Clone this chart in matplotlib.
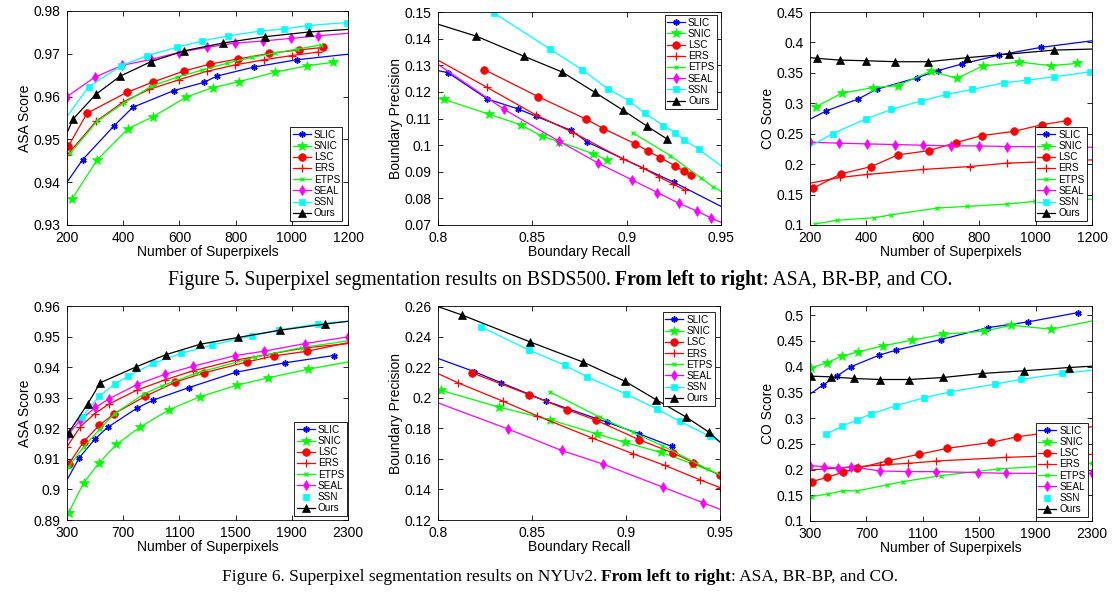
import matplotlib
matplotlib.use("Agg")
import matplotlib.pyplot as plt
from matplotlib.lines import Line2D
from matplotlib.ticker import FuncFormatter

plt.rcParams['font.family'] = ['Liberation Sans', 'DejaVu Sans']

methods = ['SLIC', 'SNIC', 'LSC', 'ERS', 'ETPS', 'SEAL', 'SSN', 'Ours']

# ---------------- BSDS500 : ASA ----------------
a5_slic = ([200, 256, 368, 434, 580, 686, 734, 865, 1017, 1200],
           [0.9400, 0.9453, 0.9532, 0.9575, 0.9614, 0.9633, 0.9648, 0.9669, 0.9686, 0.9699])
a5_snic = ([218, 307, 417, 506, 625, 718, 813, 940, 1053, 1146],
           [0.9361, 0.9452, 0.9525, 0.9553, 0.9599, 0.9621, 0.9635, 0.9657, 0.9672, 0.9680])
a5_lsc = ([205, 271, 413, 506, 617, 709, 810, 920, 1026, 1112],
          [0.9484, 0.9561, 0.9610, 0.9634, 0.9660, 0.9676, 0.9688, 0.9701, 0.9709, 0.9715])
a5_ers = ([200, 303, 401, 493, 597, 697, 798, 900, 1000, 1094],
          [0.9463, 0.9542, 0.9588, 0.9617, 0.9639, 0.9659, 0.9674, 0.9686, 0.9696, 0.9704])
a5_etps = ([212, 307, 402, 503, 590, 680, 770, 860, 940, 1020, 1104],
           [0.9468, 0.9542, 0.9585, 0.9625, 0.9645, 0.9662, 0.9678, 0.9692, 0.9702, 0.9711, 0.9721])
a5_seal = ([200, 298, 396, 500, 597, 697, 798, 898, 997, 1094, 1200],
           [0.9600, 0.9645, 0.9673, 0.9687, 0.9703, 0.9715, 0.9725, 0.9730, 0.9736, 0.9742, 0.9748])
a5_ssn = ([200, 277, 393, 485, 590, 679, 773, 887, 971, 1057, 1195],
          [0.9553, 0.9623, 0.9672, 0.9696, 0.9715, 0.9730, 0.9742, 0.9753, 0.9758, 0.9766, 0.9773])
a5_ours = ([200, 221, 302, 390, 500, 617, 754, 905, 1062, 1200],
           [0.9515, 0.9547, 0.9605, 0.9648, 0.9682, 0.9707, 0.9725, 0.9740, 0.9751, 0.9757])

# ---------------- BSDS500 : BR-BP ----------------
b5_slic = ([0.8, 0.8053, 0.8262, 0.8425, 0.8517, 0.8707, 0.8792, 0.9249, 0.95],
           [0.1280, 0.1272, 0.1173, 0.1136, 0.1109, 0.1055, 0.1011, 0.0861, 0.0770])
b5_snic = ([0.8, 0.803, 0.8271, 0.8439, 0.8549, 0.8643, 0.8824, 0.8898],
           [0.1174, 0.1172, 0.1116, 0.1076, 0.1034, 0.1013, 0.0967, 0.0944])
b5_lsc = ([0.8244, 0.8531, 0.8786, 0.8877, 0.9045, 0.9112, 0.9178, 0.9257, 0.9305, 0.9342],
          [0.1284, 0.1182, 0.1097, 0.1062, 0.1005, 0.0978, 0.0953, 0.0922, 0.0901, 0.0886])
b5_ers = ([0.8, 0.826, 0.8517, 0.8717, 0.8983, 0.9089, 0.9169, 0.9243, 0.931],
          [0.1319, 0.1217, 0.1114, 0.1047, 0.0947, 0.0913, 0.0882, 0.0855, 0.0831])
b5_etps = ([0.9031, 0.9231, 0.9395, 0.9457, 0.95],
           [0.1047, 0.0961, 0.0876, 0.0844, 0.0826])
b5_seal = ([0.8, 0.8351, 0.8641, 0.885, 0.9027, 0.9163, 0.9275, 0.9374, 0.9448, 0.95],
           [0.1303, 0.1134, 0.1015, 0.0932, 0.0870, 0.0822, 0.0782, 0.0752, 0.0726, 0.0710])
b5_ssn = ([0.8298, 0.8593, 0.8765, 0.8899, 0.9012, 0.9098, 0.9195, 0.9257, 0.9305, 0.9381, 0.95],
          [0.1496, 0.1361, 0.1283, 0.1212, 0.1167, 0.1119, 0.1073, 0.1047, 0.1020, 0.0985, 0.0922])
b5_ours = ([0.8, 0.8204, 0.8455, 0.8657, 0.8832, 0.8979, 0.9106, 0.9216],
           [0.1454, 0.1409, 0.1334, 0.1275, 0.1198, 0.1132, 0.1072, 0.1022])

# ---------------- BSDS500 : CO ----------------
c5_slic = ([200, 257, 371, 436, 581, 653, 738, 870, 1018, 1200],
           [0.2738, 0.2874, 0.3071, 0.3230, 0.3421, 0.3536, 0.3645, 0.3792, 0.3918, 0.4027])
c5_snic = ([221, 312, 422, 511, 629, 720, 812, 942, 1053, 1148],
           [0.2945, 0.3164, 0.3257, 0.3290, 0.3530, 0.3410, 0.3612, 0.3678, 0.3618, 0.3656])
c5_lsc = ([212, 310, 418, 511, 623, 717, 810, 924, 1024, 1113],
          [0.1606, 0.1841, 0.1961, 0.2152, 0.2223, 0.2354, 0.2469, 0.2540, 0.2650, 0.2715])
c5_ers = ([200, 306, 401, 599, 767, 897, 1200],
          [0.1688, 0.1781, 0.1830, 0.1912, 0.1961, 0.2016, 0.2070])
c5_etps = ([218, 294, 428, 489, 651, 758, 897, 997, 1200],
           [0.1016, 0.1077, 0.1120, 0.1169, 0.1278, 0.1306, 0.1344, 0.1388, 0.1425])
c5_seal = ([200, 304, 401, 501, 599, 699, 800, 897, 1200],
           [0.2360, 0.2345, 0.2333, 0.2322, 0.2311, 0.2300, 0.2300, 0.2289, 0.2278])
c5_ssn = ([200, 280, 398, 489, 593, 684, 775, 888, 971, 1065, 1192, 1200],
          [0.2289, 0.2502, 0.2742, 0.2900, 0.3037, 0.3146, 0.3228, 0.3337, 0.3381, 0.3435, 0.3517, 0.3523])
c5_ours = ([200, 226, 306, 397, 503, 620, 756, 906, 1065, 1200],
           [0.3750, 0.3738, 0.3710, 0.3699, 0.3683, 0.3683, 0.3749, 0.3809, 0.3874, 0.3891])

# ---------------- NYUv2 : ASA ----------------
a6_slic = ([300, 388, 497, 589, 798, 912, 1166, 1500, 1849, 2198],
           [0.9031, 0.9104, 0.9164, 0.9203, 0.9266, 0.9292, 0.9333, 0.9383, 0.9414, 0.9438])
a6_snic = ([312, 419, 525, 651, 817, 1028, 1244, 1510, 1731, 2013, 2300],
           [0.8924, 0.9022, 0.9085, 0.9147, 0.9203, 0.9261, 0.9303, 0.9341, 0.9365, 0.9393, 0.9417])
a6_lsc = ([312, 419, 530, 637, 858, 1071, 1273, 1581, 1776, 2008, 2300],
          [0.9083, 0.9156, 0.9210, 0.9248, 0.9305, 0.9351, 0.9381, 0.9417, 0.9437, 0.9452, 0.9480])
a6_ers = ([300, 395, 497, 597, 798, 1000, 1197, 1498, 1700, 1992, 2300],
          [0.9140, 0.9205, 0.9248, 0.9279, 0.9325, 0.9359, 0.9388, 0.9423, 0.9439, 0.9463, 0.9477])
a6_etps = ([312, 419, 537, 639, 846, 976, 1225, 1640, 1972, 2300],
           [0.9074, 0.9140, 0.9199, 0.9248, 0.9312, 0.9339, 0.9381, 0.9433, 0.9464, 0.9486])
a6_seal = ([300, 395, 502, 601, 798, 1000, 1197, 1498, 1700, 1992, 2300],
           [0.9175, 0.9227, 0.9268, 0.9297, 0.9343, 0.9377, 0.9403, 0.9438, 0.9452, 0.9477, 0.9499])
a6_ssn = ([407, 530, 640, 734, 912, 1111, 1330, 1617, 1806, 2086, 2300],
          [0.9237, 0.9305, 0.9345, 0.9370, 0.9412, 0.9445, 0.9472, 0.9503, 0.9521, 0.9542, 0.9550])
a6_ours = ([312, 449, 537, 793, 1005, 1249, 1517, 1818, 2139, 2300],
           [0.9186, 0.9281, 0.9349, 0.9401, 0.9441, 0.9475, 0.9497, 0.9521, 0.9541, 0.9550])

# ---------------- NYUv2 : BR-BP ----------------
b6_slic = ([0.8, 0.8192, 0.8337, 0.8577, 0.89, 0.907, 0.9243],
           [0.2257, 0.2171, 0.2097, 0.1977, 0.1839, 0.1764, 0.1681])
b6_snic = ([0.8014, 0.8323, 0.8595, 0.8848, 0.8994, 0.9186, 0.9354, 0.95],
           [0.2049, 0.1939, 0.1856, 0.1762, 0.1708, 0.1642, 0.1568, 0.1495])
b6_lsc = ([0.8181, 0.8485, 0.8687, 0.8843, 0.907, 0.9251, 0.9358, 0.95],
          [0.2163, 0.2020, 0.1922, 0.1852, 0.1725, 0.1638, 0.1576, 0.1493])
b6_ers = ([0.8, 0.8107, 0.8346, 0.8524, 0.8817, 0.9038, 0.9207, 0.9393, 0.95],
          [0.2158, 0.2097, 0.1977, 0.1883, 0.1738, 0.1633, 0.1557, 0.1463, 0.1412])
b6_etps = ([0.8595, 0.8861, 0.9035, 0.9193, 0.9434, 0.95],
           [0.2038, 0.1872, 0.1775, 0.1686, 0.1533, 0.1495])
b6_seal = ([0.8, 0.8373, 0.8657, 0.8879, 0.9198, 0.9408, 0.95],
           [0.1966, 0.1795, 0.1655, 0.1565, 0.1414, 0.1314, 0.1270])
b6_ssn = ([0.8231, 0.8485, 0.8678, 0.8793, 0.8999, 0.9166, 0.9287, 0.9447, 0.95],
          [0.2462, 0.2311, 0.2211, 0.2136, 0.2025, 0.1926, 0.1845, 0.1747, 0.1710])
b6_ours = ([0.8, 0.8128, 0.8488, 0.8772, 0.8994, 0.9159, 0.9319, 0.9443, 0.95],
           [0.2596, 0.2541, 0.2366, 0.2233, 0.2108, 0.1988, 0.1874, 0.1773, 0.1710])

# ---------------- NYUv2 : CO ----------------
c6_slic = ([300, 390, 494, 588, 791, 909, 1228, 1563, 1847, 2201],
           [0.3467, 0.3641, 0.3823, 0.3997, 0.4224, 0.4321, 0.4528, 0.4761, 0.4871, 0.5052])
c6_snic = ([307, 418, 524, 642, 815, 1025, 1245, 1533, 1729, 2012, 2300],
           [0.3978, 0.4075, 0.4204, 0.4288, 0.4405, 0.4515, 0.4631, 0.4690, 0.4806, 0.4728, 0.4890])
c6_lsc = ([314, 423, 531, 635, 855, 1072, 1273, 1587, 1771, 2300],
          [0.1766, 0.1850, 0.1947, 0.2024, 0.2173, 0.2296, 0.2413, 0.2529, 0.2639, 0.2833])
c6_ers = ([300, 642, 796, 997, 1197, 1693, 2300],
          [0.1992, 0.2057, 0.2089, 0.2121, 0.2166, 0.2237, 0.2296])
c6_etps = ([312, 430, 536, 631, 843, 961, 1228, 1634, 2300],
           [0.1474, 0.1527, 0.1591, 0.1585, 0.1700, 0.1766, 0.1882, 0.2012, 0.2122])
c6_seal = ([300, 399, 501, 590, 796, 997, 1197, 1492, 1693, 2300],
           [0.2076, 0.2057, 0.2024, 0.2057, 0.1973, 0.1960, 0.1960, 0.1940, 0.1927, 0.1927])
c6_ssn = ([413, 529, 631, 730, 907, 1108, 1296, 1611, 1794, 2090, 2300],
          [0.2684, 0.2846, 0.2962, 0.3079, 0.3241, 0.3396, 0.3512, 0.3661, 0.3752, 0.3868, 0.3933])
c6_ours = ([307, 446, 612, 796, 1004, 1245, 1519, 1816, 2137, 2300],
           [0.3816, 0.3803, 0.3771, 0.3751, 0.3751, 0.3790, 0.3868, 0.3920, 0.3984, 0.4010])

# style of each method (MATLAB colours / markers)
styles = {
    'SLIC': dict(color='#0000ff', marker=(6, 2, 0), ms=4.5, mew=1.1),
    'SNIC': dict(color='#00ff00', marker='*', ms=7, mew=0.5),
    'LSC':  dict(color='#ff0000', marker='o', ms=5.5, mew=0.5),
    'ERS':  dict(color='#ff0000', marker='+', ms=5.5, mew=0.9),
    'ETPS': dict(color='#00ff00', marker='x', ms=3.5, mew=0.9),
    'SEAL': dict(color='#ff00ff', marker='d', ms=5.5, mew=0.5),
    'SSN':  dict(color='#00ffff', marker='s', ms=4.5, mew=0.5),
    'Ours': dict(color='#000000', marker='^', ms=5.5, mew=0.5),
}

# which ends of each line carry no marker: f = first, l = last
bare_a5 = ['fl', '', '', '', '', 'l', 'f', 'fl']
bare_b5 = ['fl', 'f', '', 'f', 'l', 'fl', 'l', 'f']
bare_c5 = ['fl', '', '', 'fl', 'l', 'l', 'fl', 'fl']
bare_a6 = ['f', 'l', 'l', 'l', 'l', '', 'l', 'l']
bare_b6 = ['f', 'l', '', 'f', 'l', 'fl', 'l', 'fl']
bare_c6 = ['f', 'l', 'l', 'fl', '', '', 'l', 'l']

panels = [
    dict(series=[a5_slic, a5_snic, a5_lsc, a5_ers, a5_etps, a5_seal, a5_ssn, a5_ours], bare=bare_a5,
         xlim=(200, 1200), ylim=(0.93, 0.98), xticks=[200, 400, 600, 800, 1000, 1200],
         yticks=[0.93, 0.94, 0.95, 0.96, 0.97, 0.98], xlabel='Number of Superpixels', ylabel='ASA Score',
         pos=[67, 11, 281, 214], leg='lower right', anchor=(0.98, 0.02), ssn_line=True),
    dict(series=[b5_slic, b5_snic, b5_lsc, b5_ers, b5_etps, b5_seal, b5_ssn, b5_ours], bare=bare_b5,
         xlim=(0.8, 0.95), ylim=(0.07, 0.15), xticks=[0.8, 0.85, 0.9, 0.95],
         yticks=[0.07, 0.08, 0.09, 0.1, 0.11, 0.12, 0.13, 0.14, 0.15], xlabel='Boundary Recall',
         ylabel='Boundary Precision', pos=[438, 12, 283, 213], leg='upper right', anchor=(0.985, 0.985),
         ssn_line=True),
    dict(series=[c5_slic, c5_snic, c5_lsc, c5_ers, c5_etps, c5_seal, c5_ssn, c5_ours], bare=bare_c5,
         xlim=(200, 1200), ylim=(0.1, 0.45), xticks=[200, 400, 600, 800, 1000, 1200],
         yticks=[0.1, 0.15, 0.2, 0.25, 0.3, 0.35, 0.4, 0.45], xlabel='Number of Superpixels', ylabel='CO Score',
         pos=[810, 12, 282, 213], leg='lower right', anchor=(0.982, 0.02), ssn_line=True),
    dict(series=[a6_slic, a6_snic, a6_lsc, a6_ers, a6_etps, a6_seal, a6_ssn, a6_ours], bare=bare_a6,
         xlim=(300, 2300), ylim=(0.89, 0.96), xticks=[300, 700, 1100, 1500, 1900, 2300],
         yticks=[0.89, 0.9, 0.91, 0.92, 0.93, 0.94, 0.95, 0.96], xlabel='Number of Superpixels',
         ylabel='ASA Score', pos=[67, 306, 281, 214], leg='lower right', anchor=(0.995, 0.02), ssn_line=False),
    dict(series=[b6_slic, b6_snic, b6_lsc, b6_ers, b6_etps, b6_seal, b6_ssn, b6_ours], bare=bare_b6,
         xlim=(0.8, 0.95), ylim=(0.12, 0.26), xticks=[0.8, 0.85, 0.9, 0.95],
         yticks=[0.12, 0.14, 0.16, 0.18, 0.2, 0.22, 0.24, 0.26], xlabel='Boundary Recall',
         ylabel='Boundary Precision', pos=[438, 306, 282, 214], leg='upper right', anchor=(0.982, 0.97),
         ssn_line=True),
    dict(series=[c6_slic, c6_snic, c6_lsc, c6_ers, c6_etps, c6_seal, c6_ssn, c6_ours], bare=bare_c6,
         xlim=(300, 2300), ylim=(0.1, 0.518), xticks=[300, 700, 1100, 1500, 1900, 2300],
         yticks=[0.1, 0.15, 0.2, 0.25, 0.3, 0.35, 0.4, 0.45, 0.5], xlabel='Number of Superpixels',
         ylabel='CO Score', pos=[810, 306, 282, 215], leg='lower right', anchor=(0.986, 0.02), ssn_line=False),
]

W, H = 1115, 597
fig = plt.figure(figsize=(W / 100, H / 100), dpi=100)
fmt = FuncFormatter(lambda v, p: f'{v:g}')

for p in panels:
    l, t, w, h = p['pos']
    ax = fig.add_axes([l / W, 1 - (t + h) / H, w / W, h / H])
    handles = []
    for name, (xs, ys), bare in zip(methods, p['series'], p['bare']):
        st = styles[name]
        start = 1 if 'f' in bare else 0
        stop = len(xs) - 1 if 'l' in bare else len(xs)
        ax.plot(xs, ys, color=st['color'], lw=0.9, marker=st['marker'], ms=st['ms'],
                mew=st['mew'], mec=st['color'], mfc=st['color'],
                markevery=list(range(start, stop)), clip_on=True)
        ls = '-' if (name != 'SSN' or p['ssn_line']) else 'none'
        handles.append(Line2D([], [], color=st['color'], lw=0.9, ls=ls, marker=st['marker'],
                              ms=st['ms'], mew=st['mew'], mec=st['color'], mfc=st['color']))
    ax.set_xlim(*p['xlim'])
    ax.set_ylim(*p['ylim'])
    ax.set_xticks(p['xticks'])
    ax.set_yticks(p['yticks'])
    ax.xaxis.set_major_formatter(fmt)
    ax.yaxis.set_major_formatter(fmt)
    ax.tick_params(direction='in', top=True, right=True, length=3.5, width=0.6, labelsize=10)
    ax.tick_params(axis='x', pad=4.5)
    ax.tick_params(axis='y', pad=4.5)
    for s in ax.spines.values():
        s.set_linewidth(0.6)
    ax.set_xlabel(p['xlabel'], fontsize=10, labelpad=0)
    ax.set_ylabel(p['ylabel'], fontsize=10, labelpad=1)
    leg = ax.legend(handles, methods, loc=p['leg'], bbox_to_anchor=p['anchor'], fontsize=7.2,
                    frameon=True, fancybox=False, framealpha=1, edgecolor='black',
                    handlelength=1.8, handletextpad=0.3, labelspacing=0.12, borderpad=0.25,
                    borderaxespad=0)
    leg.get_frame().set_linewidth(0.6)


def caption(y, parts, size):
    # parts: list of (text, weight); drawn side by side and centred
    renderer = fig.canvas.get_renderer()
    texts = [fig.text(0, y, s, fontsize=size, fontweight=wt, family='Liberation Serif',
                      va='center', ha='left') for s, wt in parts]
    widths = [t.get_window_extent(renderer).width for t in texts]
    x = 560 - sum(widths) / 2
    for t, wd in zip(texts, widths):
        t.set_x(x / W)
        x += wd


caption(1 - 280 / H, [('Figure 5. Superpixel segmentation results on BSDS500. ', 'normal'),
                      ('From left to right', 'bold'), (': ASA, BR-BP, and CO.', 'normal')], 14.2)
caption(1 - 577 / H, [('Figure 6. Superpixel segmentation results on NYUv2. ', 'normal'),
                      ('From left to right', 'bold'), (': ASA, BR-BP, and CO.', 'normal')], 12.5)

fig.savefig('out.png', dpi=100)
